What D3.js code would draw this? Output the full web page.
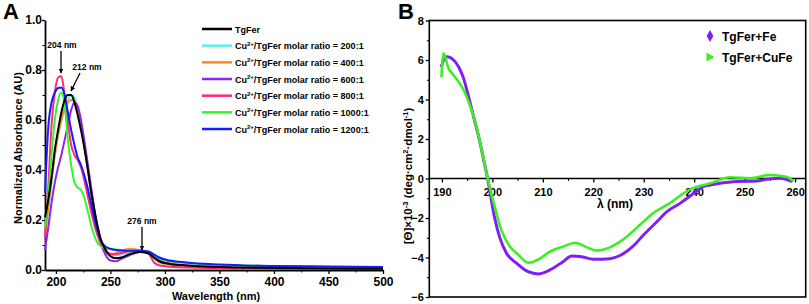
<!DOCTYPE html>
<html>
<head>
<meta charset="utf-8">
<script src="https://cdn.jsdelivr.net/npm/d3@7"></script>
<style>
  body { margin: 0; background: #fff; }
  svg { font-family: "Liberation Sans", Arial, sans-serif; font-weight: bold; }
</style>
</head>
<body>
<div id="chart"></div>
<script>
// ---- Panel A: normalized absorbance spectra ----
const wavelengthA = [190,193,196,199,202,205,208,211,214,217,220,223,226,229,232,235,238,241,245,250,255,260,268,277,285,290,295,300,320,350,400,450,500];
const absTgFer = [0.21,0.28,0.37,0.48,0.56,0.63,0.68,0.70,0.70,0.67,0.62,0.56,0.49,0.41,0.32,0.245,0.18,0.125,0.085,0.055,0.047,0.05,0.064,0.072,0.066,0.05,0.035,0.028,0.018,0.012,0.008,0.006,0.005];
const abs200 = [0.13,0.24,0.35,0.46,0.54,0.60,0.65,0.68,0.70,0.69,0.65,0.59,0.51,0.42,0.33,0.25,0.18,0.125,0.085,0.062,0.058,0.062,0.07,0.075,0.068,0.048,0.03,0.024,0.016,0.011,0.008,0.007,0.006];
const abs400 = [0.14,0.25,0.36,0.46,0.54,0.60,0.645,0.67,0.68,0.675,0.64,0.58,0.50,0.41,0.32,0.24,0.17,0.115,0.075,0.062,0.068,0.078,0.084,0.08,0.068,0.048,0.032,0.025,0.016,0.011,0.008,0.007,0.006];
const abs600 = [0.08,0.17,0.27,0.35,0.41,0.46,0.52,0.58,0.64,0.67,0.655,0.60,0.52,0.43,0.34,0.25,0.17,0.11,0.065,0.038,0.035,0.045,0.06,0.072,0.068,0.05,0.035,0.028,0.018,0.012,0.008,0.006,0.005];
const abs800 = [0.13,0.33,0.58,0.71,0.77,0.775,0.70,0.59,0.50,0.46,0.44,0.41,0.36,0.30,0.24,0.185,0.14,0.105,0.078,0.065,0.063,0.068,0.076,0.078,0.065,0.03,0.018,0.015,0.01,0.008,0.006,0.005,0.004];
const abs1000 = [0.17,0.30,0.46,0.60,0.68,0.71,0.66,0.52,0.42,0.35,0.33,0.32,0.29,0.24,0.185,0.14,0.11,0.095,0.088,0.084,0.082,0.08,0.08,0.079,0.072,0.058,0.045,0.038,0.028,0.02,0.015,0.012,0.01];
const abs1200 = [0.31,0.57,0.67,0.71,0.728,0.73,0.70,0.63,0.56,0.50,0.45,0.42,0.38,0.33,0.27,0.21,0.16,0.12,0.095,0.085,0.08,0.078,0.077,0.077,0.074,0.062,0.05,0.042,0.03,0.022,0.016,0.014,0.012];

const ratioLabels = ["200:1", "400:1", "600:1", "800:1", "1000:1", "1200:1"];
const ticksA_x = [200, 250, 300, 350, 400, 450, 500];
const ticksA_y = [0, 0.2, 0.4, 0.6, 0.8, 1.0];

// ---- Panel B: CD spectra ----
const wlFe = [189.7,190,190.3,191,191.6,192.3,193.3,194.3,195.3,196.3,197.3,198.3,199,200.4,201.5,202.8,204.8,207.1,209.1,211.4,214,215.7,217.7,220,223.3,225.3,228,229.95,232.6,234.6,237.2,239.2,241.8,243.2,247.8,252.4,254.4,257,259.4];
const cdFe = [5.66,5.75,6.0,6.17,6.13,6.0,5.66,5.07,4.12,3.11,2.1,0.92,0.08,-1.93,-3.02,-3.78,-4.29,-4.72,-4.83,-4.63,-4.21,-3.92,-3.96,-4.09,-4.06,-3.9,-3.4,-2.86,-2.19,-1.68,-1.26,-0.89,-0.41,-0.33,-0.16,-0.13,-0.04,0.01,-0.16];
const wlCuFe = [189.9,190,190.3,190.65,191,191.3,192,193.3,194.3,195.3,196.3,197.3,198.3,199,200.9,201.9,203.5,205.2,207.1,209.5,211.4,214,216.4,218.4,220.7,223.3,225.3,229.6,231.9,234.6,239.2,243.2,247.1,251.1,255,258.4,259.7];
const cdCuFe = [5.12,5.58,6.34,6.17,5.83,5.58,5.33,4.9,4.48,3.89,3.13,2.12,0.94,0.09,-1.85,-2.69,-3.45,-3.87,-4.26,-4.04,-3.7,-3.45,-3.25,-3.45,-3.65,-3.49,-3.2,-2.27,-1.75,-1.34,-0.55,-0.24,0.06,0.01,0.18,0.08,-0.16];
const ticksB_x = [190, 200, 210, 220, 230, 240, 250, 260];
const ticksB_y = [-6, -4, -2, 0, 2, 4, 6, 8];

const svg = d3.select("#chart").append("svg")
    .attr("width", 809)
    .attr("height", 304);

// arrowhead
svg.append("defs").append("marker")
    .attr("id", "arrow")
    .attr("viewBox", "0 0 10 10")
    .attr("refX", 9).attr("refY", 5)
    .attr("markerWidth", 5).attr("markerHeight", 5)
    .attr("markerUnits", "userSpaceOnUse")
    .attr("orient", "auto")
    .append("path")
    .attr("d", "M0,0 L10,5 L0,10 Z")
    .attr("fill", "#000");

// ================= Panel A =================
const xA = d3.scaleLinear().domain([190, 500]).range([45, 383]);
const yA = d3.scaleLinear().domain([0, 1]).range([270, 20]);

const gA = svg.append("g");

// minor ticks
gA.append("g")
    .attr("transform", "translate(0,270)")
    .call(d3.axisBottom(xA).tickValues(d3.range(225, 500, 50)).tickSize(2.5).tickFormat(""))
    .call(g => g.select(".domain").remove());
gA.append("g")
    .attr("transform", "translate(45,0)")
    .call(d3.axisLeft(yA).tickValues(d3.range(0.1, 1, 0.2)).tickSize(2.5).tickFormat(""))
    .call(g => g.select(".domain").remove());

const xAxisA = gA.append("g")
    .attr("transform", "translate(0,270)")
    .call(d3.axisBottom(xA).tickValues(ticksA_x).tickSize(4).tickPadding(2).tickSizeOuter(0));
const yAxisA = gA.append("g")
    .attr("transform", "translate(45,0)")
    .call(d3.axisLeft(yA).tickValues(ticksA_y).tickFormat(d3.format(".1f")).tickSize(3).tickPadding(0).tickSizeOuter(0));

[xAxisA, yAxisA].forEach(ax => {
    ax.selectAll("text").attr("font-size", 12).attr("font-weight", "bold").attr("font-family", "Liberation Sans, Arial, sans-serif").attr("fill", "#000");
    ax.selectAll("line").attr("stroke-width", 1.3);
    ax.select(".domain").attr("stroke-width", 1.8);
});
xAxisA.selectAll("text").attr("dy", "0.8em");

gA.selectAll("g.tick line").attr("stroke", "#000");

// axis titles
gA.append("text")
    .attr("x", 216).attr("y", 300)
    .attr("text-anchor", "middle")
    .attr("font-size", 11)
    .text("Wavelength (nm)");

gA.append("text")
    .attr("transform", "translate(22,148) rotate(-90)")
    .attr("text-anchor", "middle")
    .attr("font-size", 11)
    .text("Normalized Absorbance (AU)");

// series
const seriesA = [
    { values: abs200, color: "#5cf0ec" },
    { values: abs400, color: "#ff8a1e" },
    { values: abs600, color: "#8d24f0" },
    { values: abs800, color: "#ff2a78" },
    { values: abs1000, color: "#33f52a" },
    { values: abs1200, color: "#1a1aff" },
    { values: absTgFer, color: "#000000" }
];

const lineA = d3.line()
    .x((d, i) => xA(wavelengthA[i]))
    .y(d => yA(d))
    .curve(d3.curveMonotoneX);

gA.selectAll(".specA")
    .data(seriesA)
    .enter()
    .append("path")
    .attr("class", "specA")
    .attr("d", d => lineA(d.values))
    .attr("fill", "none")
    .attr("stroke", d => d.color)
    .attr("stroke-width", 2);

// annotations
function annot(label, tx, ty, x1, y1, x2, y2) {
    gA.append("text")
        .attr("x", tx).attr("y", ty)
        .attr("text-anchor", "middle")
        .attr("font-size", 8.5)
        .text(label);
    gA.append("line")
        .attr("x1", x1).attr("y1", y1)
        .attr("x2", x2).attr("y2", y2)
        .attr("stroke", "#000")
        .attr("stroke-width", 1.3)
        .attr("marker-end", "url(#arrow)");
}
annot("204 nm", 62, 48, 61, 51, 61, 73);
annot("212 nm", 87, 70, 80, 73, 71, 91);
annot("276 nm", 142, 224, 142, 227, 142, 250);

// legend
const legendA = gA.append("g").attr("transform", "translate(202,29)");
const legendItems = [{ color: "#000000", ratio: null }].concat(
    ratioLabels.map((r, i) => ({ color: seriesA[i].color, ratio: r }))
);
legendItems.forEach((d, i) => {
    const row = legendA.append("g").attr("transform", "translate(0," + (i * 16.67) + ")");
    row.append("line")
        .attr("x1", 0).attr("x2", 30)
        .attr("stroke", d.color)
        .attr("stroke-width", 2.5);
    const t = row.append("text")
        .attr("x", 33).attr("y", 3.5)
        .attr("font-size", 9);
    if (d.ratio === null) {
        t.text("TgFer");
    } else {
        t.append("tspan").text("Cu");
        t.append("tspan").attr("font-size", 6).attr("dy", -3.5).text("2+");
        t.append("tspan").attr("dy", 3.5).text("/TgFer molar ratio = " + d.ratio);
    }
});

// panel letter
svg.append("text").attr("x", 3).attr("y", 19).attr("font-size", 22).text("A");

// ================= Panel B =================
const xB = d3.scaleLinear().domain([187.5, 262.1]).range([429.3, 805.7]);
const yB = d3.scaleLinear().domain([-6, 8]).range([297, 20.5]);

const gB = svg.append("g");

// frame
gB.append("rect")
    .attr("x", xB(187.5)).attr("y", yB(8))
    .attr("width", xB(262.1) - xB(187.5))
    .attr("height", yB(-6) - yB(8))
    .attr("fill", "none")
    .attr("stroke", "#000")
    .attr("stroke-width", 1.6);

// y axis with minor ticks
gB.append("g")
    .attr("transform", "translate(" + xB(187.5) + ",0)")
    .call(d3.axisLeft(yB).tickValues(d3.range(-5, 8, 2)).tickSize(2.5).tickFormat(""))
    .call(g => g.select(".domain").remove());
const yAxisB = gB.append("g")
    .attr("transform", "translate(" + xB(187.5) + ",0)")
    .call(d3.axisLeft(yB).tickValues(ticksB_y).tickFormat(d3.format("d")).tickSize(3.5).tickPadding(2).tickSizeOuter(0));
yAxisB.select(".domain").remove();

// x axis on the zero line
gB.append("g")
    .attr("transform", "translate(0," + yB(0) + ")")
    .call(d3.axisBottom(xB).tickValues(d3.range(195, 261, 10)).tickSize(2.5).tickFormat(""))
    .call(g => g.select(".domain").remove());
const xAxisB = gB.append("g")
    .attr("transform", "translate(0," + yB(0) + ")")
    .call(d3.axisBottom(xB).tickValues(ticksB_x).tickSize(4).tickSizeOuter(0));
xAxisB.select(".domain").attr("d", "M" + xB(187.5) + ",0H" + xB(262.1)).attr("stroke-width", 1.5);

[xAxisB, yAxisB].forEach(ax => {
    ax.selectAll("text").attr("font-size", 11).attr("font-weight", "bold").attr("font-family", "Liberation Sans, Arial, sans-serif").attr("fill", "#000");
    ax.selectAll("line").attr("stroke-width", 1.3);
});
xAxisB.selectAll("text").attr("dy", "0.95em");

gB.append("text")
    .attr("x", 615).attr("y", 208)
    .attr("text-anchor", "middle")
    .attr("font-size", 12)
    .text("λ (nm)");

const yLabB = gB.append("text")
    .attr("transform", "translate(412,176) rotate(-90)")
    .attr("text-anchor", "middle")
    .attr("font-size", 11.5);
yLabB.append("tspan").text("[Θ]×10");
yLabB.append("tspan").attr("font-size", 7.5).attr("dy", -4).text("-3");
yLabB.append("tspan").attr("dy", 4).text(" (deg·cm");
yLabB.append("tspan").attr("font-size", 7.5).attr("dy", -4).text("2");
yLabB.append("tspan").attr("dy", 4).text("·dmol");
yLabB.append("tspan").attr("font-size", 7.5).attr("dy", -4).text("-1");
yLabB.append("tspan").attr("dy", 4).text(")");

// CD curves
const colorFe = "#7f1ff5";
const colorCuFe = "#3cf01e";

const lineB = d3.line()
    .x(d => xB(d[0]))
    .y(d => yB(d[1]))
    .curve(d3.curveMonotoneX);

gB.append("path")
    .datum(wlFe.map((w, i) => [w, cdFe[i]]))
    .attr("d", lineB)
    .attr("fill", "none")
    .attr("stroke", colorFe)
    .attr("stroke-width", 3);

gB.append("path")
    .datum(wlCuFe.map((w, i) => [w, cdCuFe[i]]))
    .attr("d", lineB)
    .attr("fill", "none")
    .attr("stroke", colorCuFe)
    .attr("stroke-width", 2.6);

// legend
const legendB = gB.append("g").attr("transform", "translate(710,36)");
legendB.append("path")
    .attr("d", d3.symbol().type(d3.symbolDiamond).size(40))
    .attr("fill", colorFe);
legendB.append("text").attr("x", 12).attr("y", 4.5).attr("font-size", 12).text("TgFer+Fe");
legendB.append("path")
    .attr("transform", "translate(0,21)")
    .attr("d", "M-3.5,-4.5 L4.5,0 L-3.5,4.5 Z")
    .attr("fill", colorCuFe);
legendB.append("text").attr("x", 12).attr("y", 25.5).attr("font-size", 12).text("TgFer+CuFe");

svg.append("text").attr("x", 398).attr("y", 19).attr("font-size", 22).text("B");
</script>
</body>
</html>
